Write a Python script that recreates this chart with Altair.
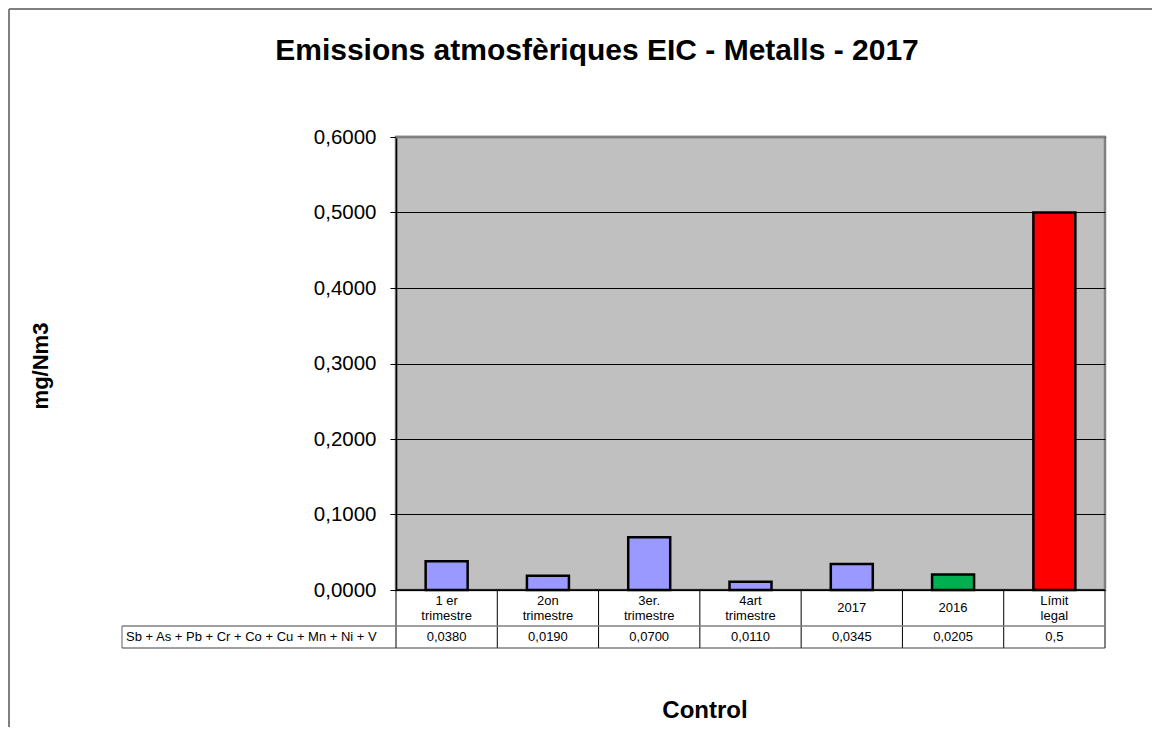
import altair as alt
import pandas as pd

FONT = "Liberation Sans, Arial, sans-serif"

title_text = "Emissions atmosfèriques EIC - Metalls - 2017"
y_title = "mg/Nm3"
x_title = "Control"
series_name = "Sb + As + Pb + Cr + Co + Cu + Mn + Ni + V"

categories = ["1 er\ntrimestre", "2on\ntrimestre", "3er.\ntrimestre", "4art\ntrimestre",
              "2017", "2016", "Límit\nlegal"]
values = [0.0380, 0.0190, 0.0700, 0.0110, 0.0345, 0.0205, 0.5]
value_labels = ["0,0380", "0,0190", "0,0700", "0,0110", "0,0345", "0,0205", "0,5"]
bar_colors = ["#9999FF", "#9999FF", "#9999FF", "#9999FF", "#9999FF", "#00B050", "#FF0000"]
y_ticks = [0, 0.1, 0.2, 0.3, 0.4, 0.5, 0.6]

df = pd.DataFrame({"cat": categories, "value": values, "label": value_labels, "color": bar_colors})
one = pd.DataFrame({"name": [series_name]})

W, H = 709, 453
PAD_R = 47

x_enc = alt.X("cat:N", sort=categories, scale=alt.Scale(paddingInner=0, paddingOuter=0), axis=None)

base = alt.Chart(df)

bars = base.mark_bar(width=42, stroke="black", strokeWidth=2.5).encode(
    x=x_enc,
    y=alt.Y("value:Q", scale=alt.Scale(domain=[0, 0.6], nice=False, zero=True),
            axis=alt.Axis(values=y_ticks, title=None,
                          labelExpr="replace(format(datum.value, '.4f'), '.', ',')",
                          labelFont=FONT, labelFontSize=20.5, labelColor="black", labelPadding=14,
                          tickSize=6, tickColor="black", tickWidth=1,
                          domain=True, domainColor="black", domainWidth=1.5,
                          grid=True, gridWidth=1.2, gridColor="#000000")),
    color=alt.Color("color:N", scale=None),
)

cat_text_multi = base.transform_filter("indexof(datum.cat, '\\n') >= 0").mark_text(
    font=FONT, fontSize=13, lineBreak="\n", lineHeight=15,
    baseline="middle", align="center", color="black").encode(
    x=x_enc, y=alt.value(463.5), text="cat:N")

cat_text_single = base.transform_filter("indexof(datum.cat, '\\n') < 0").mark_text(
    font=FONT, fontSize=13, baseline="middle", align="center", color="black").encode(
    x=x_enc, y=alt.value(471), text="cat:N")

val_text = base.mark_text(font=FONT, fontSize=13, baseline="middle", align="center",
                          color="black").encode(
    x=x_enc, y=alt.value(500), text="label:N")

vlines = base.mark_rule(color="black", strokeWidth=1).encode(
    x=alt.X("cat:N", sort=categories, bandPosition=0, axis=None),
    y=alt.value(453), y2=alt.value(511))

oc = alt.Chart(one)
top_line = oc.mark_rule(color="#808080", strokeWidth=2.5).encode(
    x=alt.value(0), x2=alt.value(W), y=alt.value(0))
right_edge = oc.mark_rule(color="black", strokeWidth=1).encode(
    x=alt.value(W), y=alt.value(453), y2=alt.value(511))
left_cell = oc.mark_rule(color="#606060", strokeWidth=1).encode(
    x=alt.value(-274), y=alt.value(489), y2=alt.value(511))
mid_line = oc.mark_rule(color="#808080", strokeWidth=1.5).encode(
    x=alt.value(-274), x2=alt.value(W), y=alt.value(489))
bot_line = oc.mark_rule(color="#404040", strokeWidth=1).encode(
    x=alt.value(-274), x2=alt.value(W), y=alt.value(511))
zero_line = oc.mark_rule(color="black", strokeWidth=1.5).encode(
    x=alt.value(0), x2=alt.value(W), y=alt.value(H))

series_text = oc.mark_text(font=FONT, fontSize=13, align="left", baseline="middle",
                           color="black").encode(
    x=alt.value(-270), y=alt.value(500), text="name:N")

title = oc.mark_text(font=FONT, fontSize=30, fontWeight="bold", align="center",
                     baseline="alphabetic", color="black").encode(
    x=alt.value(201), y=alt.value(-77), text=alt.value(title_text))

ytitle = oc.mark_text(font=FONT, fontSize=22, fontWeight="bold", align="center",
                      baseline="middle", angle=270, color="black").encode(
    x=alt.value(-355), y=alt.value(229), text=alt.value(y_title))

xtitle = oc.mark_text(font=FONT, fontSize=24, fontWeight="bold", align="center",
                      baseline="middle", color="black").encode(
    x=alt.value(309), y=alt.value(574), text=alt.value(x_title))

frame_left = oc.mark_rule(color="#808080", strokeWidth=2).encode(
    x=alt.value(-387), y=alt.value(-128), y2=alt.value(700))
frame_top = oc.mark_rule(color="#808080", strokeWidth=2).encode(
    x=alt.value(-387), x2=alt.value(W + PAD_R), y=alt.value(-128))

chart = alt.layer(
    frame_left, frame_top, bars, top_line, zero_line, vlines, right_edge, left_cell,
    mid_line, bot_line, cat_text_multi, cat_text_single, val_text, series_text,
    title, ytitle, xtitle
).properties(
    width=W, height=H,
    autosize=alt.AutoSizeParams(type="none"),
    padding={"left": 388, "top": 129, "right": PAD_R, "bottom": 137},
).configure_view(
    fill="#C0C0C0", stroke="#808080", strokeWidth=2.5
)

chart.save("out.html", embed_options={"renderer": "svg", "actions": False})
